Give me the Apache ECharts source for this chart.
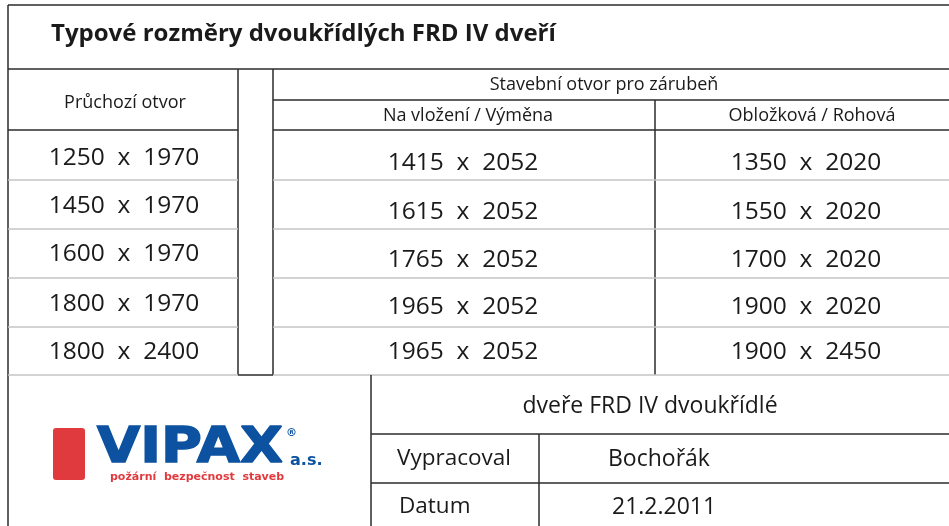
<!DOCTYPE html>
<html>
<head>
<meta charset="utf-8">
<script src="https://cdn.jsdelivr.net/npm/echarts@6/dist/echarts.min.js"></script>
<style>
  html, body { margin: 0; padding: 0; background: #fff; }
  #main { width: 949px; height: 526px; }
</style>
</head>
<body>
<div id="main"></div>
<script>
// table data
const title = "Typové rozměry dvoukřídlých FRD IV dveří";
const headThrough = "Průchozí otvor";
const headBuild = "Stavební otvor pro zárubeň";
const subHeads = ["Na vložení / Výměna", "Obložková / Rohová"];
const throughSizes = [[1250, 1970], [1450, 1970], [1600, 1970], [1800, 1970], [1800, 2400]];
const insertSizes = [[1415, 2052], [1615, 2052], [1765, 2052], [1965, 2052], [1965, 2052]];
const frameSizes = [[1350, 2020], [1550, 2020], [1700, 2020], [1900, 2020], [1900, 2450]];
const footTitle = "dveře FRD IV dvoukřídlé";
const footLabels = ["Vypracoval", "Datum"];
const footValues = ["Bochořák", "21.2.2011"];

const myChart = echarts.init(document.getElementById("main"));

const dark = "#2b2b2b";
const grey = "#c4c4c4";
const FONT = "'Open Sans', 'Noto Sans', sans-serif";

function line(x1, y1, x2, y2, color, w) {
  return {
    type: "line",
    shape: { x1: x1, y1: y1, x2: x2, y2: y2 },
    style: { stroke: color || dark, lineWidth: w || 1.5 },
    silent: true,
  };
}

function text(str, x, y, size, align, opts) {
  opts = opts || {};
  const st = {
    text: str,
    x: 0,
    y: 0,
    fill: opts.color || "#1a1a1a",
    font: (opts.weight || "normal") + " " + size + "px " + (opts.family || FONT),
    align: align,
    textAlign: align,
    verticalAlign: "middle",
    textVerticalAlign: "middle",
  };
  if (opts.stroke) {
    st.stroke = opts.stroke;
    st.lineWidth = opts.strokeWidth || 1;
  }
  return {
    type: "text",
    x: x,
    y: y,
    scaleX: opts.scaleX || 1,
    style: st,
    silent: true,
  };
}

function size(pair) {
  return pair[0] + "  x  " + pair[1];
}

const els = [];

// outer frame + title row
els.push(line(8, 5, 949, 5));
els.push(line(8, 5, 8, 526));
els.push(line(8, 69, 949, 69));
els.push(text(title, 51, 34, 24, "left", { weight: "bold" }));

// header
els.push(line(238, 69, 238, 375));
els.push(line(273, 69, 273, 375));
els.push(line(273, 100, 949, 100));
els.push(line(8, 130, 238, 130));
els.push(line(273, 130, 949, 130));
els.push(line(655, 100, 655, 375));
els.push(line(238, 375, 273, 375));
els.push(text(headThrough, 125, 103, 18, "center"));
els.push(text(headBuild, 604, 85, 18, "center"));
els.push(text(subHeads[0], 468, 116, 18, "center"));
els.push(text(subHeads[1], 812, 116, 18, "center"));

// body rows
const rowLines = [180, 229, 278, 327, 375];
rowLines.forEach(function (y) {
  els.push(line(8, y, 238, y, grey, 1.5));
  els.push(line(273, y, 949, y, grey, 1.5));
});
const leftY = [158, 206, 254, 304, 352];
const rightY = [163, 212, 260, 307, 352];
throughSizes.forEach(function (p, i) {
  els.push(text(size(p), 124, leftY[i], 24.5, "center"));
});
insertSizes.forEach(function (p, i) {
  els.push(text(size(p), 463, rightY[i], 24.5, "center"));
});
frameSizes.forEach(function (p, i) {
  els.push(text(size(p), 806, rightY[i], 24.5, "center"));
});

// footer block
els.push(line(371, 375, 371, 526));
els.push(line(371, 434, 949, 434));
els.push(line(371, 483, 949, 483));
els.push(line(539, 434, 539, 526));
els.push(text(footTitle, 650, 406, 23, "center"));
els.push(text(footLabels[0], 397, 459, 22.5, "left"));
els.push(text(footLabels[1], 399, 507, 22.5, "left"));
els.push(text(footValues[0], 608, 459, 23, "left"));
els.push(text(footValues[1], 612, 507, 23, "left"));

// logo
const blue = "#0d52a0";
const red = "#e13a3e";
els.push({
  type: "rect",
  shape: { x: 53, y: 428, width: 32, height: 52, r: 3 },
  style: { fill: red },
  silent: true,
});
els.push(text("VIPAX", 97, 449, 49, "left", {
  weight: "bold", color: blue, family: "'DejaVu Sans', sans-serif",
  scaleX: 1.14, stroke: blue, strokeWidth: 1.5,
}));
els.push(text("®", 286, 433, 11, "left", { weight: "bold", color: blue, family: "'DejaVu Sans', sans-serif" }));
els.push(text("a.s.", 290, 461, 16, "left", { weight: "bold", color: blue, family: "'DejaVu Sans', sans-serif" }));
els.push(text("požární  bezpečnost  staveb", 110, 477, 11, "left", { weight: "bold", color: red, family: "'DejaVu Sans', sans-serif" }));

myChart.setOption({
  animation: false,
  graphic: { elements: els },
});

window.addEventListener("resize", function () {
  myChart.resize();
});
</script>
</body>
</html>
